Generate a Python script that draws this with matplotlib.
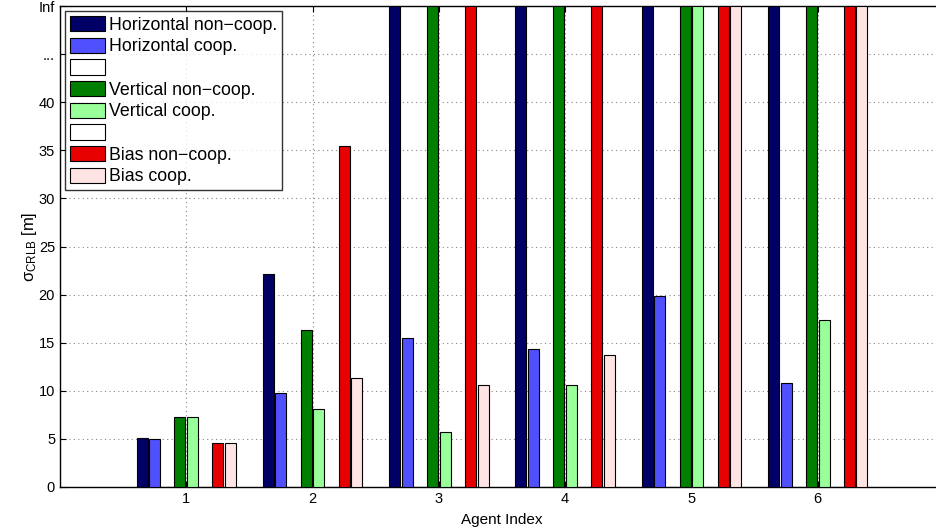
import matplotlib
matplotlib.use('Agg')
import matplotlib.pyplot as plt
import numpy as np

plt.rcParams['font.family'] = ['Liberation Sans', 'DejaVu Sans']
plt.rcParams['mathtext.fontset'] = 'custom'
plt.rcParams['mathtext.rm'] = 'Liberation Sans'
plt.rcParams['mathtext.it'] = 'Liberation Sans:italic'

inf = np.inf
agents = [1, 2, 3, 4, 5, 6]

# CRLB std per agent [m], inf = unobservable
horiz_noncoop = [5.1, 22.1, inf, inf, inf, inf]
horiz_coop    = [5.0, 9.8, 15.5, 14.3, 19.9, 10.8]
vert_noncoop  = [7.3, 16.3, inf, inf, inf, inf]
vert_coop     = [7.3, 8.1, 5.7, 10.6, inf, 17.4]
bias_noncoop  = [4.6, 35.5, inf, inf, inf, inf]
bias_coop     = [4.6, 11.3, 10.6, 13.7, inf, inf]
blank         = [0, 0, 0, 0, 0, 0]

series = [horiz_noncoop, horiz_coop, blank, vert_noncoop, vert_coop, blank,
          bias_noncoop, bias_coop]
labels = ['Horizontal non\u2212coop.', 'Horizontal coop.', ' ',
          'Vertical non\u2212coop.', 'Vertical coop.', ' ',
          'Bias non\u2212coop.', 'Bias coop.']
colors = ['#000066', '#5050ff', 'white', '#007f00', '#99ff99', 'white',
          '#e60000', '#ffe4e4']

ytick_vals = [0, 5, 10, 15, 20, 25, 30, 35, 40, 45, 50]
ytick_labels = ['0', '5', '10', '15', '20', '25', '30', '35', '40', '...', 'Inf']
ymax = 50

fig = plt.figure(figsize=(9.37, 5.32), dpi=100)
ax = fig.add_axes([0.064, 0.0846, 0.9435, 0.904])

n = len(series)
slot = 0.1
width = 0.087
x = np.array(agents, dtype=float)
for i, (vals, lab, col) in enumerate(zip(series, labels, colors)):
    v = np.minimum(np.array(vals, dtype=float), ymax)
    ax.bar(x + (i - (n - 1) / 2) * slot, v, width, color=col, edgecolor='black',
           linewidth=0.8, label=lab, zorder=3)

ax.set_xlim(0, 7)
ax.set_ylim(0, ymax)
ax.set_xticks(agents)
ax.set_yticks(ytick_vals)
ax.set_yticklabels(ytick_labels)
ax.tick_params(direction='in', top=True, right=True, labelsize=10.5, length=4)
ax.grid(True, linestyle=(0, (1, 3)), color='#888888', linewidth=0.8, zorder=0)
ax.set_axisbelow(True)
for s in ax.spines.values():
    s.set_linewidth(1.0)

ax.set_xlabel('Agent Index', fontsize=11, labelpad=5)
ax.set_ylabel('\u03c3$_{\\mathrm{CRLB}}$ [m]', fontsize=12, labelpad=0)

leg = ax.legend(loc='upper left', fontsize=12.8, frameon=True, fancybox=False,
                edgecolor='black', handlelength=2.0, handleheight=0.95,
                handletextpad=0.2, labelspacing=0.22, borderpad=0.25,
                borderaxespad=0.3)
leg.get_frame().set_linewidth(1.0)

fig.savefig('out.png', dpi=100)
